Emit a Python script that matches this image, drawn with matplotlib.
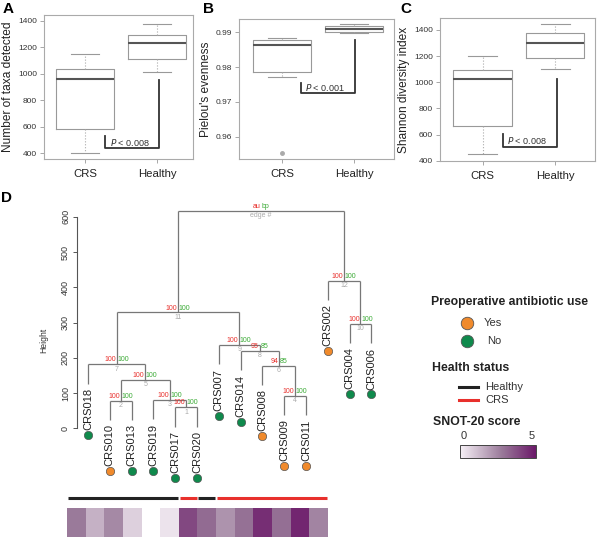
import numpy as np
import matplotlib
matplotlib.use("Agg")
import matplotlib.pyplot as plt
from matplotlib.colors import LinearSegmentedColormap
from itertools import groupby

plt.rcParams['font.family'] = ['Liberation Sans', 'DejaVu Sans']

W, H = 600, 539

# ---- box plot data ----
groups = ["CRS", "Healthy"]
taxa_stats = [(400, 587, 962, 1034, 1148), (1015, 1110, 1230, 1290, 1375)]
even_stats = [(0.9771, 0.9786, 0.98635, 0.98787, 0.98845), (0.9899, 0.9900, 0.99086, 0.9919, 0.99238)]
even_fliers = [[0.9552], []]
shannon_stats = [(450, 665, 1023, 1094, 1200), (1098, 1187, 1303, 1377, 1445)]

# ---- dendrogram data ----
leaf_labels = ["CRS018", "CRS010", "CRS013", "CRS019", "CRS017", "CRS020", "CRS007",
               "CRS014", "CRS008", "CRS009", "CRS011", "CRS002", "CRS004", "CRS006"]
antibiotic = ["No", "Yes", "No", "No", "No", "No", "No",
              "No", "Yes", "Yes", "Yes", "Yes", "No", "No"]
# R-style merge matrix: negative = leaf (1-based), positive = earlier merge
merges = [(-5, -6), (-2, -3), (-4, 1), (-10, -11), (2, 3), (-9, 4), (-1, 5),
          (-8, 6), (-7, 8), (-13, -14), (7, 9), (-12, 10), (11, 12)]
heights = [60, 78, 80, 92, 137, 177, 182, 219, 236, 296, 329, 419, 618]
au = [100, 100, 100, 100, 100, 94, 100, 95, 100, 100, 100, 100, None]
bp = [100, 100, 100, 100, 100, 85, 100, 85, 100, 100, 100, 100, None]
hang = 55

# ---- bottom strips ----
health = ["Healthy", "Healthy", "Healthy", "Healthy", "Healthy", "Healthy", "CRS",
          "Healthy", "CRS", "CRS", "CRS", "CRS", "CRS", "CRS"]
snot = [2.75, 1.45, 2.4, 0.75, np.nan, 0.3, 3.9, 3.1, 2.15, 2.95, 4.5, 3.0, 4.7, 2.5]

ORANGE = "#f08a2c"
GREEN = "#0f8a4c"
RED = "#e8302c"
GRAY = "#999999"

fig = plt.figure(figsize=(W / 100, H / 100), dpi=100)


def px_axes(x0, y0, x1, y1):
    return fig.add_axes([x0 / W, 1 - y1 / H, (x1 - x0) / W, (y1 - y0) / H])


def box_panel(ax, stats, ylim, xlim, yticks, ticklabels, ylabel, bracket, ptext, fliers=None):
    bstats = []
    for i, s in enumerate(stats):
        bstats.append(dict(whislo=s[0], q1=s[1], med=s[2], q3=s[3], whishi=s[4],
                           fliers=(fliers[i] if fliers else [])))
    ax.bxp(bstats, positions=[1, 2], widths=0.8, showfliers=True,
           boxprops=dict(color=GRAY, lw=0.8),
           medianprops=dict(color="#555555", lw=1.5),
           whiskerprops=dict(color="#aaaaaa", lw=0.8, linestyle=":"),
           capprops=dict(color=GRAY, lw=0.8),
           flierprops=dict(marker="o", markersize=2.5, markerfacecolor="#aaaaaa",
                           markeredgecolor="#aaaaaa"))
    ax.set_xlim(*xlim)
    ax.set_ylim(*ylim)
    ax.set_yticks(yticks)
    ax.set_yticklabels(ticklabels, fontsize=6, color="#333333")
    ax.set_xticks([1, 2])
    ax.set_xticklabels(groups, fontsize=8.2, color="#222222")
    ax.tick_params(axis="both", color=GRAY, length=3, width=0.6, pad=2)
    ax.tick_params(axis="x", pad=4)
    for sp in ax.spines.values():
        sp.set_color("#aaaaaa")
        sp.set_linewidth(0.8)
    ax.set_ylabel(ylabel, fontsize=8.6, color="#222222", labelpad=3)
    bx0, by0, bx1, by1, ytop = bracket
    ax.plot([bx0, bx0, bx1, bx1], [by0, by1, by1, ytop], color="#333333", lw=1.3)
    ax.text(bx0 + 0.06, (by0 + by1) / 2, ptext, fontsize=6.5, color="#333333",
            va="center", ha="left")


axA = px_axes(44, 15, 193, 159)
box_panel(axA, taxa_stats, (357, 1443), (0.43, 2.5), [400, 600, 800, 1000, 1200, 1400],
          ["400", "600", "800", "1000", "1200", "1400"], "Number of taxa detected",
          (1.28, 529, 2.03, 438, 953), r"$\it{P}$ < 0.008")

axB = px_axes(239, 19, 394, 159)
box_panel(axB, even_stats, (0.9536, 0.99382), (0.403, 2.556), [0.96, 0.97, 0.98, 0.99],
          ["0.96", "0.97", "0.98", "0.99"], "Pielou's evenness",
          (1.26, 0.97552, 2.01, 0.97264, 0.98779), r"$\it{P}$ < 0.001", fliers=even_fliers)

axC = px_axes(440, 18, 595, 161)
box_panel(axC, shannon_stats, (398, 1491), (0.414, 2.55), [400, 600, 800, 1000, 1200, 1400],
          ["400", "600", "800", "1000", "1200", "1400"], "Shannon diversity index",
          (1.28, 602, 2.03, 506, 1025), r"$\it{P}$ < 0.008")

# ---- dendrogram ----
axD = px_axes(77, 195, 400, 485)
n = len(leaf_labels)
leaf_x = np.arange(1, n + 1)
node_x = []
leaf_end = np.zeros(n)


def child_pos(c):
    if c < 0:
        return leaf_x[-c - 1]
    return node_x[c - 1]


for k, (a, b) in enumerate(merges):
    h = heights[k]
    xa, xb = child_pos(a), child_pos(b)
    node_x.append((xa + xb) / 2)
    for c, xc in ((a, xa), (b, xb)):
        if c < 0:
            yc = h - hang
            leaf_end[-c - 1] = yc
        else:
            yc = heights[c - 1]
        axD.plot([xc, xc], [h, yc], color="#777777", lw=0.9, solid_capstyle="butt")
    axD.plot([xa, xb], [h, h], color="#777777", lw=0.9, solid_capstyle="butt")
    top_a = "au" if au[k] is None else str(au[k])
    top_b = "bp" if bp[k] is None else str(bp[k])
    edge = "edge #" if au[k] is None else str(k + 1)
    axD.annotate(top_a, (node_x[k], h), xytext=(-0.5, 0.6), textcoords="offset points",
                 ha="right", va="bottom", fontsize=5, color=RED)
    axD.annotate(top_b, (node_x[k], h), xytext=(0.5, 0.6), textcoords="offset points",
                 ha="left", va="bottom", fontsize=5, color="#3aaa35")
    axD.annotate(edge, (node_x[k], h), xytext=(0, -1), textcoords="offset points",
                 ha="center", va="top", fontsize=5, color="#aaaaaa")

for i, lab in enumerate(leaf_labels):
    axD.annotate(lab, (leaf_x[i], leaf_end[i]), xytext=(0, -3), textcoords="offset points",
                 ha="center", va="top", rotation=90, fontsize=8, color="#222222")
    col = ORANGE if antibiotic[i] == "Yes" else GREEN
    axD.plot(leaf_x[i], leaf_end[i] - 145, "o", ms=6, mfc=col, mec="#555555", mew=0.5,
             clip_on=False)

axD.set_xlim(0.4954, 15.312)
axD.set_ylim(-161, 662)
for s in ("top", "right", "bottom"):
    axD.spines[s].set_visible(False)
axD.spines["left"].set_bounds(0, 600)
axD.spines["left"].set_color("#555555")
axD.spines["left"].set_linewidth(0.8)
axD.set_xticks([])
axD.set_yticks(range(0, 601, 100))
axD.set_yticklabels([str(v) for v in range(0, 601, 100)], rotation=90, va="center",
                    fontsize=6.5, color="#333333")
axD.tick_params(axis="y", color="#555555", length=3, width=0.7, pad=2)
axD.set_ylabel("Height", fontsize=6.2, color="#333333", labelpad=9)

# ---- health status strip ----
cmap = LinearSegmentedColormap.from_list(
    "snot", [(0.0, "#f6f0f6"), (0.55, "#9a7a9a"), (1.0, "#6c1a6a")])
cmap.set_bad("white")

axS = px_axes(67, 494, 328, 502)
pos = 0
for status, run in groupby(health):
    m = len(list(run))
    col = "#222222" if status == "Healthy" else RED
    axS.plot([pos + 0.05, pos + m - 0.05], [0.5, 0.5], color=col, lw=2.2,
             solid_capstyle="butt")
    pos += m
axS.set_xlim(0, n)
axS.set_ylim(0, 1)
axS.axis("off")

axH = px_axes(67, 508, 328, 537)
axH.imshow(np.ma.masked_invalid(np.array(snot)[None, :]), cmap=cmap, vmin=0, vmax=5,
           aspect="auto", interpolation="nearest")
axH.axis("off")

# ---- overlay for legend and panel letters (pixel coordinates) ----
ov = fig.add_axes([0, 0, 1, 1], facecolor="none")
ov.set_xlim(0, W)
ov.set_ylim(H, 0)
ov.axis("off")

for letter, (lx, ly) in {"A": (8, 9), "B": (209, 9), "C": (406, 9), "D": (7, 198)}.items():
    ov.text(lx, ly, letter, fontsize=11, fontweight="bold", ha="center", va="center")

ov.text(431, 302, "Preoperative antibiotic use", fontsize=8.8, fontweight="bold",
        va="center", ha="left", color="#222222")
ov.plot(467, 323, "o", ms=9, mfc=ORANGE, mec="#555555", mew=0.6)
ov.plot(467, 341, "o", ms=9, mfc=GREEN, mec="#555555", mew=0.6)
ov.text(484, 323, "Yes", fontsize=8, va="center", color="#333333")
ov.text(487, 341, "No", fontsize=8, va="center", color="#333333")

ov.text(432, 368, "Health status", fontsize=8.8, fontweight="bold", va="center",
        color="#222222")
ov.plot([459, 478], [387, 387], color="#222222", lw=2.2)
ov.plot([459, 478], [400, 400], color=RED, lw=2.2)
ov.text(485, 387, "Healthy", fontsize=8, va="center", color="#333333")
ov.text(485, 400, "CRS", fontsize=8, va="center", color="#333333")

ov.text(433, 422, "SNOT-20 score", fontsize=8.8, fontweight="bold", va="center",
        color="#222222")
ov.text(464, 436, "0", fontsize=8, ha="center", va="center", color="#333333")
ov.text(532, 436, "5", fontsize=8, ha="center", va="center", color="#333333")
ov.imshow(np.linspace(0, 5, 100)[None, :], cmap=cmap, vmin=0, vmax=5, aspect="auto",
          extent=(460, 536, 458, 445), interpolation="bilinear")
ov.add_patch(plt.Rectangle((460, 445), 76, 13, fill=False, ec="#444444", lw=0.7))
ov.set_xlim(0, W)
ov.set_ylim(H, 0)

fig.savefig("out.png", dpi=100)
